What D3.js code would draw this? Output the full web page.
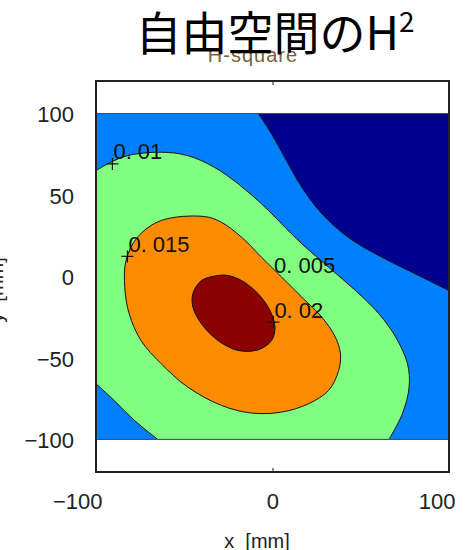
<!DOCTYPE html>
<html>
<head>
<meta charset="utf-8">
<script src="https://cdn.jsdelivr.net/npm/d3@7"></script>
<style>
  html, body { margin: 0; padding: 0; background: #fff; }
  svg { display: block; }
</style>
</head>
<body>
<svg id="chart" width="465" height="550"></svg>
<script>
// ---- Data (in mm) ----
const xTicks = [-100, 0, 100];
const yTicks = [100, 50, 0, -50, -100];

// contour level 0.005 : boundary of the low (navy) region, top edge -> right edge
const level005 = [[-8, 100], [-0.5, 87.5], [7, 73], [16.5, 55], [28, 38.5], [43, 24], [62, 11.8], [81, 1.6], [100, -8.6]];
// contour level 0.01 : upper branch, left edge -> bottom edge
const level010a = [[-100, 65], [-91.6, 70.1], [-82, 74.2], [-63, 76.3], [-48, 74.2], [-33, 67.1], [-19.5, 56.9], [-6.2, 44.6], [5.2, 32.3], [16.6, 20.1], [31.8, 5.7], [47, -8.6], [60.3, -22.9], [69.8, -37.2], [76.5, -53.6], [77.4, -67.9], [73.6, -84.2], [66, -100]];
// contour level 0.01 : lower-left branch, left edge -> bottom edge
const level010b = [[-100, -65.8], [-89.7, -76.1], [-78.3, -88.3], [-65, -100]];
// contour level 0.015 : closed
const level015 = [[-38.5, 36.8], [-63, 34.4], [-76.5, 24.1], [-83, 9.8], [-83.7, -6.5], [-81.2, -22.9], [-74.5, -39.3], [-63, -53.6], [-48, -67.9], [-29, -79.1], [-11.9, -83.8], [5.2, -83.2], [20.4, -78.1], [31.8, -69.9], [37.5, -57.7], [38.5, -47.4], [35.6, -37.2], [28, -25], [16.6, -12.7], [5.2, -0.4], [-6.2, 11.8], [-17.5, 24.1], [-29, 33.3]];
// contour level 0.02 : closed
const level020 = [[-30.9, 0.6], [-40.3, -2.5], [-45.1, -10.6], [-45.1, -18.8], [-40.3, -29], [-30.9, -39.3], [-19.5, -45.4], [-8.1, -45], [-0.5, -39.3], [1.4, -31.1], [-1.4, -20.9], [-8.1, -10.6], [-17.5, -2.5], [-25.2, 0.6]];

// contour labels
const labelText = ["0. 01", "0. 015", "0. 005", "0. 02"];
const labelX = [-90.7, -82.2, 0.3, 0.5];
const labelY = [69.1, 12.3, -0.6, -28];
const labelMark = [true, true, false, true];

const fillColors = { low: "#00008f", mid: "#0080ff", l010: "#80ff80", l015: "#ff8c00", l020: "#8b0000" };

// ---- Layout ----
const svg = d3.select("#chart");
const x = d3.scaleLinear().domain([-100, 100]).range([96, 449]);
const y = d3.scaleLinear().domain([-120, 120]).range([472, 81]);

const defs = svg.append("defs");
defs.append("clipPath").attr("id", "dataClip")
  .append("rect")
  .attr("x", x(-100)).attr("y", y(100))
  .attr("width", x(100) - x(-100)).attr("height", y(-100) - y(100));

const line = d3.line().x(d => x(d[0])).y(d => y(d[1])).curve(d3.curveCatmullRom.alpha(0.5));
const closedLine = d3.line().x(d => x(d[0])).y(d => y(d[1])).curve(d3.curveCatmullRomClosed.alpha(0.5));
const pt = d => `${x(d[0])},${y(d[1])}`;

const g = svg.append("g").attr("clip-path", "url(#dataClip)");

// base region
g.append("rect")
  .attr("x", x(-100)).attr("y", y(100))
  .attr("width", x(100) - x(-100)).attr("height", y(-100) - y(100))
  .attr("fill", fillColors.mid);

// low region (top right)
g.append("path")
  .attr("d", line(level005) + "L" + pt([100, 100]) + "Z")
  .attr("fill", fillColors.low);

// 0.01 region
g.append("path")
  .attr("d", line(level010a) + "L" + pt([-65, -100]) + "L" + line(level010b.slice().reverse()).slice(1) + "L" + pt([-100, 65]) + "Z")
  .attr("fill", fillColors.l010);

// 0.015 region
g.append("path").attr("d", closedLine(level015)).attr("fill", fillColors.l015);
// 0.02 region
g.append("path").attr("d", closedLine(level020)).attr("fill", fillColors.l020);

// contour lines
const stroke = "#111";
[level005, level010a, level010b].forEach(c =>
  g.append("path").attr("d", line(c)).attr("fill", "none").attr("stroke", stroke).attr("stroke-width", 1));
[level015, level020].forEach(c =>
  g.append("path").attr("d", closedLine(c)).attr("fill", "none").attr("stroke", stroke).attr("stroke-width", 1));

// edge lines of filled area
svg.append("rect")
  .attr("x", x(-100)).attr("y", y(100))
  .attr("width", x(100) - x(-100)).attr("height", y(-100) - y(100))
  .attr("fill", "none").attr("stroke", "#444").attr("stroke-width", 1);

// contour labels
labelText.forEach((t, i) => {
  const px = x(labelX[i]), py = y(labelY[i]);
  if (labelMark[i]) {
    svg.append("path")
      .attr("d", `M${px - 6},${py}H${px + 6}M${px},${py - 6}V${py + 6}`)
      .attr("stroke", "#111").attr("stroke-width", 1.2).attr("fill", "none");
  }
  svg.append("text")
    .attr("x", px + 1).attr("y", py - 4.5)
    .attr("font-family", "Liberation Sans, Arial, sans-serif")
    .attr("font-size", 22)
    .attr("fill", "#111")
    .text(t);
});

// frame
svg.append("rect")
  .attr("x", x(-100)).attr("y", y(120))
  .attr("width", x(100) - x(-100)).attr("height", y(-120) - y(120))
  .attr("fill", "none").attr("stroke", "#222").attr("stroke-width", 2);

// ticks at x = 0 (top & bottom, inward)
svg.append("g").attr("transform", `translate(0,${y(-120)})`)
  .call(d3.axisTop(x).tickValues([0]).tickSize(4).tickFormat(""))
  .call(a => a.select(".domain").remove())
  .selectAll("line").attr("stroke", "#222");
svg.append("g").attr("transform", `translate(0,${y(120)})`)
  .call(d3.axisBottom(x).tickValues([0]).tickSize(4).tickFormat(""))
  .call(a => a.select(".domain").remove())
  .selectAll("line").attr("stroke", "#222");

const fmt = v => (v < 0 ? "\u2212" + Math.abs(v) : String(v));

// x axis labels
const xa = svg.append("g").attr("transform", `translate(0,${y(-120)})`)
  .call(d3.axisBottom(x).tickValues(xTicks).tickSize(0).tickFormat(fmt));
xa.select(".domain").remove();
xa.selectAll("text")
  .attr("font-family", "Liberation Sans, Arial, sans-serif")
  .attr("font-size", 22).attr("fill", "#222")
  .attr("text-anchor", "end").attr("dx", 6).attr("dy", 0).attr("y", 37);

// y axis labels
const ya = svg.append("g").attr("transform", `translate(${x(-100)},0)`)
  .call(d3.axisLeft(y).tickValues(yTicks).tickSize(0).tickFormat(fmt));
ya.select(".domain").remove();
ya.selectAll("text")
  .attr("font-family", "Liberation Sans, Arial, sans-serif")
  .attr("font-size", 22).attr("fill", "#222")
  .attr("x", -22).attr("dy", "0.38em");

// axis titles
svg.append("text")
  .attr("x", 257).attr("y", 548)
  .attr("text-anchor", "middle")
  .attr("font-family", "Liberation Sans, Arial, sans-serif")
  .attr("font-size", 20).attr("fill", "#222")
  .attr("xml:space", "preserve")
  .text("x  [mm]");
svg.append("text")
  .attr("transform", "translate(3,290) rotate(-90)")
  .attr("text-anchor", "middle")
  .attr("font-family", "Liberation Sans, Arial, sans-serif")
  .attr("font-size", 20).attr("fill", "#222")
  .attr("xml:space", "preserve")
  .text("y  [mm]");

// subtitle (original plot title)
svg.append("text")
  .attr("x", 253).attr("y", 62)
  .attr("text-anchor", "middle")
  .attr("font-family", "Liberation Sans, Arial, sans-serif")
  .attr("font-size", 20).attr("letter-spacing", 1)
  .attr("fill", "#7a6040")
  .text("H-square");

// main title
const title = svg.append("text")
  .attr("x", 275).attr("y", 50)
  .attr("text-anchor", "middle")
  .attr("font-family", "Noto Sans CJK JP, sans-serif")
  .attr("font-size", 46).attr("fill", "#000");
title.append("tspan").text("自由空間のH");
title.append("tspan").attr("font-size", 28).attr("dy", -18).text("2");
</script>
</body>
</html>
